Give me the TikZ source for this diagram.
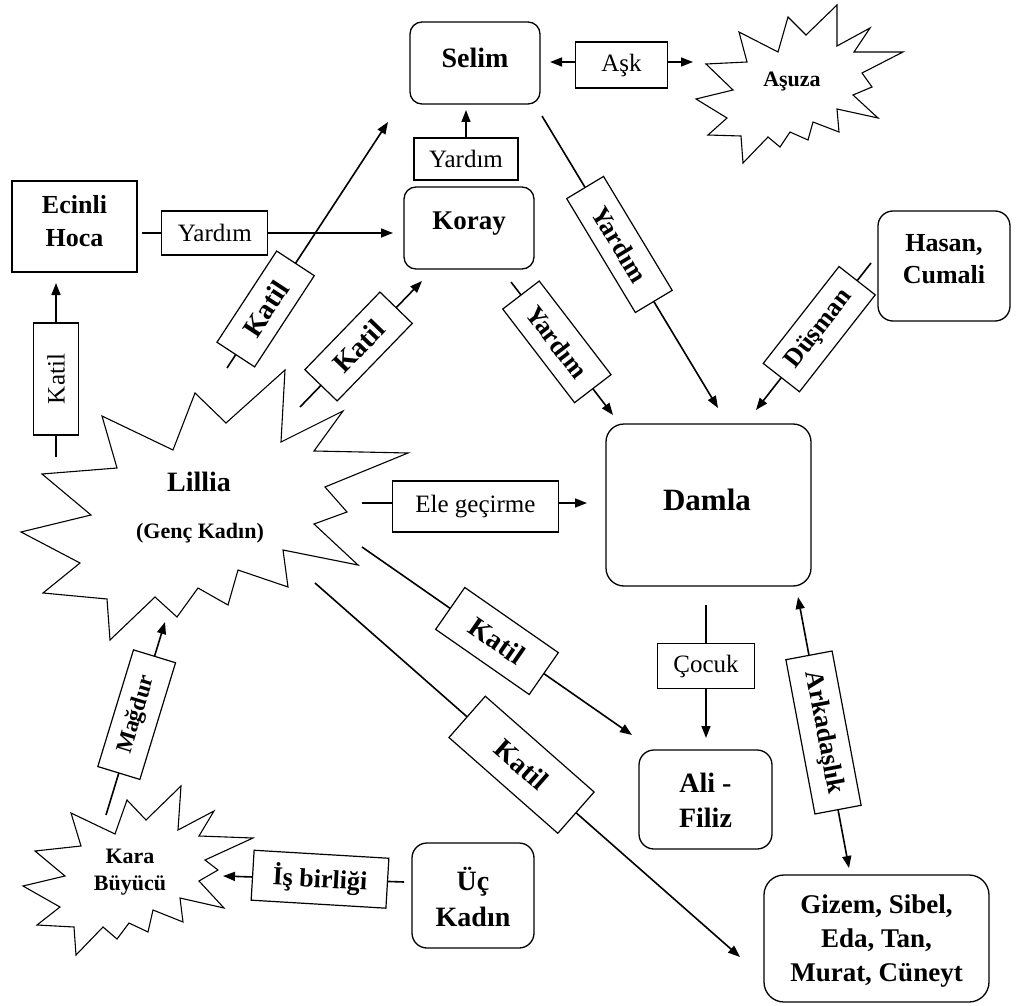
\documentclass[tikz,border=0pt]{standalone}
\usepackage{fontspec}
\setmainfont{Liberation Serif}
\usetikzlibrary{arrows.meta}
\begin{document}
\begin{tikzpicture}[x=1pt,y=-1pt,
  conn/.style={line width=1.6pt},
  arr/.style={conn,-{Triangle[length=12pt,width=9pt]}},
  darr/.style={conn,{Triangle[length=12pt,width=9pt]}-{Triangle[length=12pt,width=9pt]}},
  lbl/.style={draw,fill=white,line width=1.2pt,inner sep=0pt,font=\fontsize{25}{30}\selectfont},
  blbl/.style={lbl,font=\bfseries\fontsize{26}{30}\selectfont},
  katilfont/.style={font=\bfseries\fontsize{28}{30}\selectfont},
  plainbox/.style={draw,line width=1.3pt,inner sep=0pt},
  roundbox/.style={plainbox,rounded corners=#1},
  roundbox/.default=12pt,
  nametext/.style={font=\bfseries\fontsize{27}{34}\selectfont,align=center,inner sep=0pt},
  burst/.style={draw,fill=white,line width=1.1pt,line join=miter}
]
\fill[white] (0,0) rectangle (1021,1006);
\useasboundingbox (0,0) rectangle (1021,1006);

% ---------- bursts ----------
\draw[burst] (739,32) -- (778,52) -- (788,17) -- (806,35) -- (837,5) -- (837,46)
  -- (870,28) -- (854,52) -- (903,52) -- (862,73) -- (872,87) -- (853,95)
  -- (878,118) -- (837,109) -- (839,132) -- (813,122) -- (808,140) -- (790,132)
  -- (780,147) -- (768,137) -- (743,163) -- (741,136) -- (708,135) -- (727,118)
  -- (696,99) -- (733,90) -- (706,64) -- (747,62) -- cycle;
\node[nametext,font=\bfseries\fontsize{22}{26}\selectfont] (asuzaT) at (792,82) {Aşuza};

\draw[burst] (102,416) -- (173,450) -- (195,393) -- (226,423) -- (285,370)
  -- (281,442) -- (343,411) -- (314,451) -- (408,453) -- (325,487) -- (347,512)
  -- (314,524) -- (358,565) -- (283,550) -- (288,587) -- (238,570) -- (228,605)
  -- (198,588) -- (177,617) -- (155,597) -- (110,640) -- (107,599) -- (43,593)
  -- (80,563) -- (21,532) -- (91,515) -- (42,474) -- (117,468) -- cycle;
\node[nametext,font=\bfseries\fontsize{28}{32}\selectfont] (lilliaT) at (199,482) {Lillia};
\node[nametext,font=\bfseries\fontsize{22}{26}\selectfont] (gencT) at (200,533) {(Genç Kadın)};

\draw[burst] (71,813) -- (115,834) -- (127,800) -- (146,820) -- (181,786)
  -- (178,830) -- (214,811) -- (199,836) -- (253,838) -- (205,860) -- (218,870)
  -- (199,881) -- (224,908) -- (180,898) -- (183,922) -- (153,910) -- (148,932)
  -- (129,923) -- (117,939) -- (103,927) -- (76,955) -- (74,927) -- (37,925)
  -- (60,907) -- (23,886) -- (65,876) -- (35,851) -- (81,846) -- cycle;
\node[nametext,font=\bfseries\fontsize{22}{27}\selectfont] (karaT) at (130,872.5) {Kara\\Büyücü};

% ---------- boxes ----------
\node[plainbox,minimum width=125pt,minimum height=91pt] (ecinli) at (74.5,226.5) {};
\node[nametext,font=\bfseries\fontsize{26}{33}\selectfont] (ecinliT) at (74.5,221.5) {Ecinli\\Hoca};

\node[roundbox,minimum width=130pt,minimum height=82pt] (selim) at (475,63) {};
\node[nametext,font=\bfseries\fontsize{28}{34}\selectfont] (selimT) at (475,58) {Selim};

\node[roundbox,minimum width=130pt,minimum height=82pt] (koray) at (469,228) {};
\node[nametext] (korayT) at (469,223.5) {Koray};

\node[roundbox=15pt,minimum width=132pt,minimum height=110pt] (hasan) at (944,266) {};
\node[nametext,font=\bfseries\fontsize{26}{32}\selectfont] (hasanT) at (944,259) {Hasan,\\Cumali};

\node[roundbox=18pt,minimum width=205pt,minimum height=162pt] (damla) at (708.5,505) {};
\node[nametext,font=\bfseries\fontsize{31}{36}\selectfont] (damlaT) at (707,500) {Damla};

\node[roundbox=15pt,minimum width=133pt,minimum height=99pt] (ali) at (705.5,799.5) {};
\node[nametext,font=\bfseries\fontsize{28}{35}\selectfont] (aliT) at (705.5,800) {Ali -\\Filiz};

\node[roundbox=20pt,minimum width=225pt,minimum height=127pt] (gizem) at (876.5,938.5) {};
\node[nametext,font=\bfseries\fontsize{27}{34}\selectfont] (gizemT) at (876.5,941) {Gizem, Sibel,\\Eda, Tan,\\Murat, Cüneyt};

\node[roundbox=15pt,minimum width=122pt,minimum height=105pt] (uc) at (473,895.5) {};
\node[nametext,font=\bfseries\fontsize{28}{36}\selectfont] (ucT) at (473,897) {Üç\\Kadın};

\node[lbl,minimum width=104pt,minimum height=42pt] (ysmall) at (466,159) {Yardım};

% ---------- connector ends ----------
\coordinate (c-asL) at (550,62);   \coordinate (c-asR) at (693,62);
\coordinate (c-yS)  at (466,110);
\coordinate (c-ecR) at (142,233);  \coordinate (c-koL) at (393,233);
\coordinate (c-kvB) at (56,457);   \coordinate (c-kvT) at (56,283);
\coordinate (c-k1a) at (227,368);  \coordinate (c-k1b) at (388,122);
\coordinate (c-k2a) at (300,407);  \coordinate (c-k2b) at (422,281);
\coordinate (c-ysa) at (542,116);  \coordinate (c-ysb) at (718,408);
\coordinate (c-yka) at (511,282);  \coordinate (c-ykb) at (613,415);
\coordinate (c-dua) at (871,263);  \coordinate (c-dub) at (756,410);
\coordinate (c-ela) at (362,503);  \coordinate (c-elb) at (587,503);
\coordinate (c-kaa) at (362,547);  \coordinate (c-kab) at (632,735);
\coordinate (c-kga) at (315,583);  \coordinate (c-kgb) at (740,957);
\coordinate (c-coa) at (706,605);  \coordinate (c-cob) at (706,738);
\coordinate (c-ara) at (798,597);  \coordinate (c-arb) at (849,868);
\coordinate (c-isa) at (404,882);  \coordinate (c-isb) at (223,876);
\coordinate (c-maa) at (106,815);  \coordinate (c-mab) at (165,622);

% ---------- connectors ----------
\draw[darr] (c-asL) -- node[lbl,minimum width=92pt,minimum height=46pt,yshift=-3pt] (ask) {Aşk} (c-asR);
\draw[arr] (ysmall.north) -- (c-yS);
\draw[arr] (c-ecR) -- node[lbl,pos=0.29,minimum width=106pt,minimum height=44pt] (yleft) {Yardım} (c-koL);
\draw[arr] (c-kvB) -- node[lbl,sloped,pos=0.448,minimum width=112pt,minimum height=45pt] (kvert) {Katil} (c-kvT);
\draw[arr] (c-k1a) -- node[blbl,katilfont,sloped,pos=0.24,minimum width=109pt,minimum height=45pt] (katilA) {Katil} (c-k1b);
\draw[arr] (c-k2a) -- node[blbl,katilfont,sloped,pos=0.48,minimum width=108pt,minimum height=45pt] (katilB) {Katil} (c-k2b);
\draw[arr] (c-ysa) -- node[blbl,sloped,pos=0.44,minimum width=133pt,minimum height=43pt] (yardA) {Yardım} (c-ysb);
\draw[arr] (c-yka) -- node[blbl,sloped,pos=0.45,minimum width=118pt,minimum height=46pt] (yardB) {Yardım} (c-ykb);
\draw[arr] (c-dua) -- node[blbl,sloped,pos=0.45,minimum width=123pt,minimum height=46pt] (dusman) {Düşman} (c-dub);
\draw[arr] (c-ela) -- node[lbl,pos=0.504,minimum width=166pt,minimum height=51pt,yshift=-3.5pt] (ele) {Ele geçirme} (c-elb);
\draw[arr] (c-kaa) -- node[blbl,katilfont,sloped,pos=0.5,minimum width=114pt,minimum height=51pt] (katilC) {Katil} (c-kab);
\draw[arr] (c-kga) -- node[blbl,katilfont,sloped,pos=0.486,minimum width=145pt,minimum height=55pt] (katilD) {Katil} (c-kgb);
\draw[arr] (c-coa) -- node[lbl,pos=0.46,minimum width=97pt,minimum height=45pt] (cocuk) {Çocuk} (c-cob);
\draw[darr] (c-ara) -- node[blbl,sloped,pos=0.5,minimum width=157pt,minimum height=47pt] (arkadas) {Arkadaşlık} (c-arb);
\draw[arr] (c-isa) -- node[blbl,rotate=-3.4,pos=0.464,minimum width=135pt,minimum height=50pt] (isbir) {İş birliği} (c-isb);
\draw[arr] (c-maa) -- node[blbl,font=\bfseries\fontsize{23}{28}\selectfont,sloped,pos=0.52,minimum width=122pt,minimum height=44pt] (magdur) {Mağdur} (c-mab);
\end{tikzpicture}
\end{document}
